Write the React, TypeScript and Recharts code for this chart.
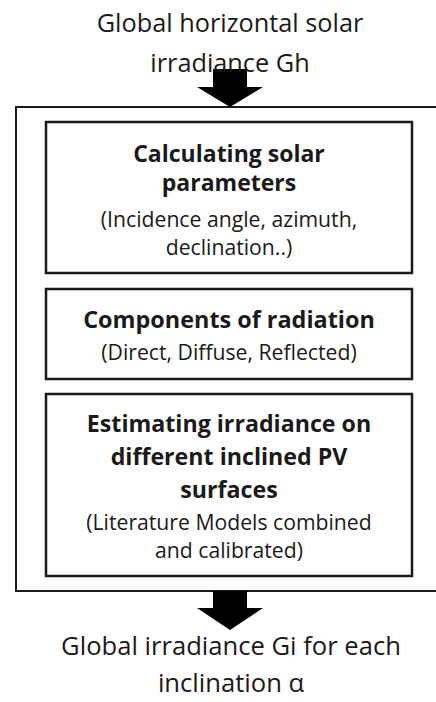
import React from 'react';
import { ComposedChart, XAxis, YAxis, ReferenceArea, Scatter } from 'recharts';

// flow text, top to bottom
const inputLines = ['Global horizontal solar', 'irradiance Gh'];
const step1Title = ['Calculating solar', 'parameters'];
const step1Note = ['(Incidence angle, azimuth,', 'declination..)'];
const step2Title = ['Components of radiation'];
const step2Note = ['(Direct, Diffuse, Reflected)'];
const step3Title = ['Estimating irradiance on', 'different inclined PV', 'surfaces'];
const step3Note = ['(Literature Models combined', 'and calibrated)'];
const outputLines = ['Global irradiance Gi for each', 'inclination \u03b1'];

const W = 436;
const H = 702;
const FONT = '"Open Sans", sans-serif';
const INK = '#1a1a1a';

// layout (px in chart coords)
const outerBox = { x1: 16, x2: 460, y1: 107, y2: 591 };
const boxes = [
  { x1: 46, x2: 412, y1: 122, y2: 273 },
  { x1: 46, x2: 412, y1: 289, y2: 379 },
  { x1: 46, x2: 412, y1: 394, y2: 576 },
];
const arrows = [
  { x: 230, top: 69, neck: 87, tip: 107 },
  { x: 230, top: 591, neck: 608, tip: 630 },
];

type TextRow = { x: number; y: number; text: string; size: number; weight: string };

const rows = (lines: string[], x: number, y0: number, step: number, size: number, weight = 'normal'): TextRow[] =>
  lines.map((text, i) => ({ x, y: y0 + i * step, text, size, weight }));

const textRows: TextRow[] = [
  ...rows(inputLines, 230, 32, 40, 25.3),
  ...rows(step1Title, 229, 162, 29, 23, 'bold'),
  ...rows(step1Note, 229, 227, 28, 21.2),
  ...rows(step2Title, 229, 328, 30, 23.4, 'bold'),
  ...rows(step2Note, 229, 360, 28, 21.2),
  ...rows(step3Title, 229, 432, 33, 23.2, 'bold'),
  ...rows(step3Note, 229, 530, 28, 21.2),
  ...rows(outputLines, 231, 655, 37, 25.6),
];

const TextShape = (props: any) => {
  const { cx, cy, payload } = props;
  return (
    <text x={cx} y={cy} textAnchor="middle" fontFamily={FONT} fontSize={payload.size}
      fontWeight={payload.weight} fill={INK}>
      {payload.text}
    </text>
  );
};

const ArrowShape = (props: any) => {
  const { cx, payload } = props;
  const { top, neck, tip } = payload;
  const pts = [
    [cx - 17, top], [cx + 17, top], [cx + 17, neck], [cx + 33, neck],
    [cx, tip], [cx - 33, neck], [cx - 17, neck],
  ].map((p) => p.join(',')).join(' ');
  return <polygon points={pts} fill="#000" />;
};

export default function App() {
  const arrowData = arrows.map((a) => ({ ...a, y: a.tip }));
  return (
    <div style={{ position: 'absolute', left: 0, top: 0, width: W, height: H, background: '#fff' }}>
      <ComposedChart width={W} height={H} margin={{ top: 0, right: 0, bottom: 0, left: 0 }}>
        <XAxis type="number" dataKey="x" domain={[0, W]} hide />
        <YAxis type="number" dataKey="y" domain={[0, H]} reversed hide />
        <ReferenceArea {...outerBox} ifOverflow="visible" fill="#fff" fillOpacity={1} stroke={INK} strokeWidth={2} />
        {boxes.map((b, i) => (
          <ReferenceArea key={i} {...b} ifOverflow="visible" fill="#fff" fillOpacity={1} stroke={INK} strokeWidth={2.5} />
        ))}
        <Scatter data={arrowData} shape={<ArrowShape />} isAnimationActive={false} />
        <Scatter data={textRows} shape={<TextShape />} isAnimationActive={false} />
      </ComposedChart>
    </div>
  );
}
